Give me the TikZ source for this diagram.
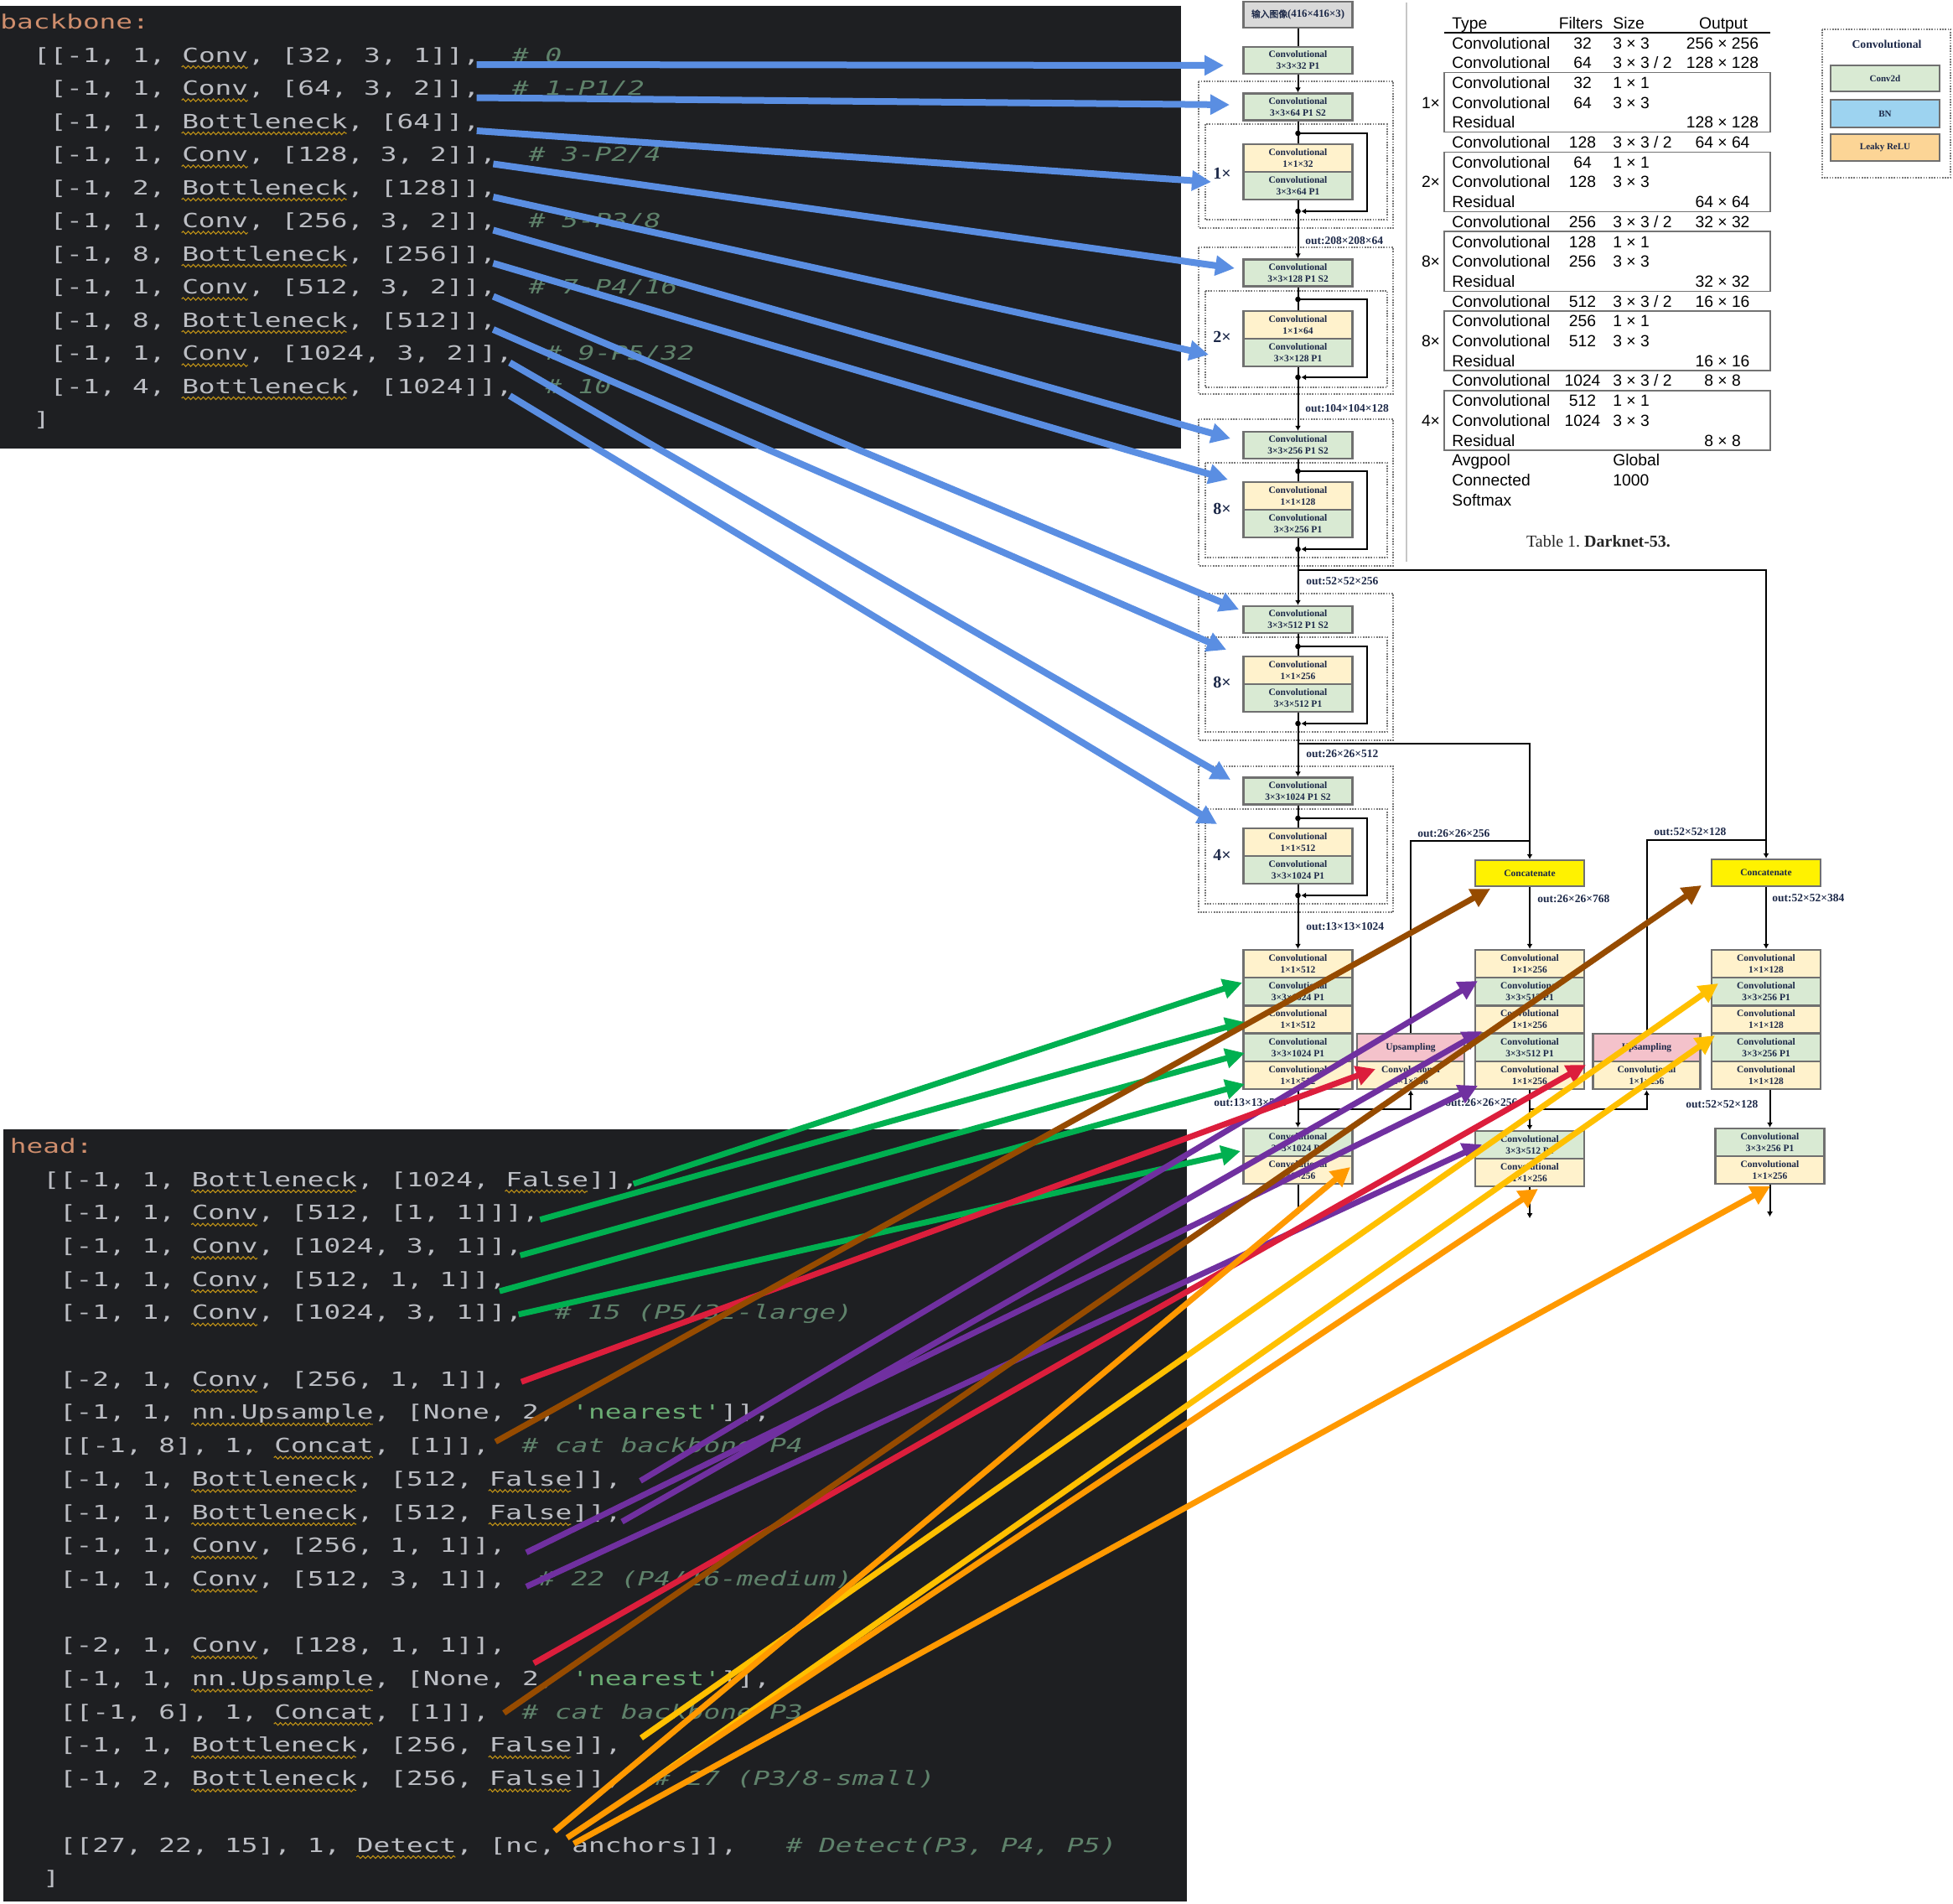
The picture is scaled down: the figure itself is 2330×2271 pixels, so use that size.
\documentclass[tikz,border=0pt]{standalone}
\usepackage{fontspec}
\setmainfont{Liberation Serif}
\newfontfamily\codefont[FakeStretch=1.40]{DejaVu Sans Mono}
\newfontfamily\tabfont{Liberation Sans}
\newfontfamily\cjkfont[FakeBold=1.5]{Noto Sans CJK SC}
\usetikzlibrary{arrows.meta,calc,decorations.pathmorphing}
\frenchspacing
\definecolor{panel}{RGB}{30,31,34}
\definecolor{codefg}{RGB}{188,190,196}
\definecolor{kwor}{RGB}{207,142,109}
\definecolor{cmtc}{RGB}{95,130,107}
\definecolor{strg}{RGB}{106,171,115}
\definecolor{wavec}{RGB}{190,145,23}
\definecolor{navy}{RGB}{28,40,72}
\definecolor{bgray}{RGB}{112,112,112}
\definecolor{cgreen}{RGB}{217,234,211}
\definecolor{cyellow}{RGB}{255,242,204}
\definecolor{cpink}{RGB}{244,194,203}
\definecolor{cblue}{RGB}{157,211,240}
\definecolor{corange}{RGB}{252,213,150}
\definecolor{inputgray}{RGB}{217,217,217}
\definecolor{dotgray}{RGB}{120,120,120}
\definecolor{ablue}{RGB}{90,142,226}
\definecolor{agreen}{RGB}{0,176,80}
\definecolor{ared}{RGB}{220,30,60}
\definecolor{abrown}{RGB}{150,75,0}
\definecolor{apurple}{RGB}{112,48,160}
\definecolor{agold}{RGB}{255,192,0}
\definecolor{aorange}{RGB}{255,153,0}
\newcommand\cf{\codefont\fontsize{11.7}{14}\selectfont}
\newcommand\bxf{\fontsize{5.75}{7}\selectfont\bfseries}
\newcommand\otf{\fontsize{6.75}{8}\selectfont\bfseries}
\newcommand\tbf{\tabfont\fontsize{9.65}{11}\selectfont}
\newcommand\trow[5]{%
  \node[tcell,anchor=base west] (ty#1) at (1732,{58+23.7*(#1-1)}) {#2};
  \if\relax\detokenize{#3}\relax\else\node[tcell,anchor=base] (fi#1) at (1888,{58+23.7*(#1-1)}) {#3};\fi
  \if\relax\detokenize{#4}\relax\else\node[tcell,anchor=base west] (sz#1) at (1924,{58+23.7*(#1-1)}) {#4};\fi
  \if\relax\detokenize{#5}\relax\else\node[tcell,anchor=base] (ou#1) at (2055,{58+23.7*(#1-1)}) {#5};\fi}
\begin{document}
\begin{tikzpicture}[x=0.5pt,y=-0.5pt,
  code/.style={font=\cf, text=codefg, inner sep=0pt, anchor=base west},
  cmt/.style={code, font=\cf\itshape, text=cmtc},
  wavy/.style={draw=wavec, line width=0.55pt, decorate, decoration={snake, amplitude=0.8pt, segment length=3pt}},
  barrow/.style={draw=ablue, line width=4pt, -{Triangle[length=11.5pt 0,width=11.5pt 0]}},
  harrow/.style={line width=3.5pt, -{Triangle[length=11.5pt 0,width=11.5pt 0]}},
  box/.style={draw=bgray, line width=1.2pt, minimum width=65pt, minimum height=16.5pt, inner sep=0pt, align=center, font=\bxf, text=navy},
  gbx/.style={box, fill=cgreen},
  ybx/.style={box, fill=cyellow},
  pbx/.style={box, fill=cpink},
  cbx/.style={box, fill=yellow, minimum height=15.5pt},
  sbx/.style={gbx, minimum height=16pt},
  hbx/.style={minimum height=16.6pt},
  dbox/.style={draw=dotgray, line width=1pt, dash pattern=on 0.8pt off 0.8pt},
  ln/.style={draw=black, line width=1pt},
  arr/.style={ln, -{Latex[length=3pt 0,width=3.5pt 0]}},
  dotn/.style={circle, fill=black, inner sep=0pt, minimum size=3.3pt},
  mult/.style={font=\fontsize{10}{12}\selectfont\bfseries, text=navy, inner sep=0pt},
  outl/.style={font=\otf, text=navy, inner sep=0pt, anchor=west},
  tcell/.style={font=\tbf, inner sep=0pt},
  lgf/.style={font=\fontsize{5.5}{7}\selectfont\bfseries},
]
\useasboundingbox (0,0) rectangle (2330,2271);
\fill[white] (0,0) rectangle (2330,2271);

% ---------------- code panels ----------------
\fill[panel] (0,7) rectangle (1409,535);
\fill[panel] (4,1347) rectangle (1416,2268);

\node[code,text=kwor] (bk0) at (0,34.5) {backbone:};
\node[code] (b1) at (39.4,74) {[[-1, 1, Conv, [32, 3, 1]],};
\node[cmt] (cb1) at (610.7,74) {\# 0};
\node[code] (b2) at (59.1,113.5) {[-1, 1, Conv, [64, 3, 2]],};
\node[cmt] (cb2) at (610.7,113.5) {\# 1-P1/2};
\node[code] (b3) at (59.1,153) {[-1, 1, Bottleneck, [64]],};
\node[code] (b4) at (59.1,192.5) {[-1, 1, Conv, [128, 3, 2]],};
\node[cmt] (cb4) at (630.4,192.5) {\# 3-P2/4};
\node[code] (b5) at (59.1,232) {[-1, 2, Bottleneck, [128]],};
\node[code] (b6) at (59.1,271.5) {[-1, 1, Conv, [256, 3, 2]],};
\node[cmt] (cb6) at (630.4,271.5) {\# 5-P3/8};
\node[code] (b7) at (59.1,311) {[-1, 8, Bottleneck, [256]],};
\node[code] (b8) at (59.1,350.5) {[-1, 1, Conv, [512, 3, 2]],};
\node[cmt] (cb8) at (630.4,350.5) {\# 7-P4/16};
\node[code] (b9) at (59.1,390) {[-1, 8, Bottleneck, [512]],};
\node[code] (b10) at (59.1,429.5) {[-1, 1, Conv, [1024, 3, 2]],};
\node[cmt] (cb10) at (650.1,429.5) {\# 9-P5/32};
\node[code] (b11) at (59.1,469) {[-1, 4, Bottleneck, [1024]],};
\node[cmt] (cb11) at (650.1,469) {\# 10};
\node[code] (b12) at (39.4,508.5) {]};

\foreach \yy in {80,119.5,198.5,277.5,356.5,435.5} \draw[wavy] (216.7,\yy) -- (295.5,\yy);
\foreach \yy in {159,238,317,396,475} \draw[wavy] (216.7,\yy) -- (413.7,\yy);

\node[code,text=kwor] (hl0) at (11.5,1375.3) {head:};
\node[code] (hl1) at (50.9,1415) {[[-1, 1, Bottleneck, [1024, False]],};
\node[code] (hl2) at (70.6,1454.7) {[-1, 1, Conv, [512, [1, 1]]],};
\node[code] (hl3) at (70.6,1494.4) {[-1, 1, Conv, [1024, 3, 1]],};
\node[code] (hl4) at (70.6,1534.1) {[-1, 1, Conv, [512, 1, 1]],};
\node[code] (hl5) at (70.6,1573.8) {[-1, 1, Conv, [1024, 3, 1]],};
\node[cmt] (ch5) at (661.6,1573.8) {\# 15 (P5/32-large)};
\node[code] (hl7) at (70.6,1653.2) {[-2, 1, Conv, [256, 1, 1]],};
\node[code] (hl8) at (70.6,1692.9) {[-1, 1, nn.Upsample, [None, 2, \textcolor{strg}{'nearest'}]],};
\node[code] (hl9) at (70.6,1732.6) {[[-1, 8], 1, Concat, [1]],};
\node[cmt] (ch9) at (622.2,1732.6) {\# cat backbone P4};
\node[code] (hl10) at (70.6,1772.3) {[-1, 1, Bottleneck, [512, False]],};
\node[code] (hl11) at (70.6,1812) {[-1, 1, Bottleneck, [512, False]],};
\node[code] (hl12) at (70.6,1851.7) {[-1, 1, Conv, [256, 1, 1]],};
\node[code] (hl13) at (70.6,1891.4) {[-1, 1, Conv, [512, 3, 1]],};
\node[cmt] (ch13) at (641.9,1891.4) {\# 22 (P4/16-medium)};
\node[code] (hl15) at (70.6,1970.8) {[-2, 1, Conv, [128, 1, 1]],};
\node[code] (hl16) at (70.6,2010.5) {[-1, 1, nn.Upsample, [None, 2, \textcolor{strg}{'nearest'}]],};
\node[code] (hl17) at (70.6,2050.2) {[[-1, 6], 1, Concat, [1]],};
\node[cmt] (ch17) at (622.2,2050.2) {\# cat backbone P3};
\node[code] (hl18) at (70.6,2089.9) {[-1, 1, Bottleneck, [256, False]],};
\node[code] (hl19) at (70.6,2129.6) {[-1, 2, Bottleneck, [256, False]],};
\node[cmt] (ch19) at (779.8,2129.6) {\# 27 (P3/8-small)};
\node[code] (hl21) at (70.6,2209) {[[27, 22, 15], 1, Detect, [nc, anchors]],};
\node[cmt] (ch21) at (937.4,2209) {\# Detect(P3, P4, P5)};
\node[code] (hl22) at (50.9,2248.7) {]};

\foreach \yy in {1460.7,1500.4,1540.1,1579.8,1659.2,1857.7,1897.4,1976.8} \draw[wavy] (228.2,\yy) -- (307,\yy);
\foreach \yy in {1421,1778.3,1818,2095.9,2135.6} \draw[wavy] (228.2,\yy) -- (425.2,\yy);
\draw[wavy] (602.5,1421) -- (701,1421);
\foreach \yy in {1778.3,1818,2095.9,2135.6} \draw[wavy] (582.8,\yy) -- (681.3,\yy);
\foreach \yy in {1698.9,2016.5} \draw[wavy] (228.2,\yy) -- (444.9,\yy);
\foreach \yy in {1738.6,2056.2} \draw[wavy] (326.7,\yy) -- (444.9,\yy);
\draw[wavy] (425.2,2215) -- (543.4,2215);

% ---------------- table ----------------
\draw[draw=black!22, line width=0.75pt] (1678,3) -- (1678,670);
\node[tcell,anchor=base west] (thT) at (1732,34) {Type};
\node[tcell,anchor=base] (thF) at (1886,34) {Filters};
\node[tcell,anchor=base west] (thS) at (1924,34) {Size};
\node[tcell,anchor=base] (thO) at (2056,34) {Output};
\draw[line width=1pt] (1723,38.5) -- (2112,38.5);
\trow{1}{Convolutional}{32}{3 × 3}{256 × 256}
\trow{2}{Convolutional}{64}{3 × 3 / 2}{128 × 128}
\trow{3}{Convolutional}{32}{1 × 1}{}
\trow{4}{Convolutional}{64}{3 × 3}{}
\trow{5}{Residual}{}{}{128 × 128}
\trow{6}{Convolutional}{128}{3 × 3 / 2}{64 × 64}
\trow{7}{Convolutional}{64}{1 × 1}{}
\trow{8}{Convolutional}{128}{3 × 3}{}
\trow{9}{Residual}{}{}{64 × 64}
\trow{10}{Convolutional}{256}{3 × 3 / 2}{32 × 32}
\trow{11}{Convolutional}{128}{1 × 1}{}
\trow{12}{Convolutional}{256}{3 × 3}{}
\trow{13}{Residual}{}{}{32 × 32}
\trow{14}{Convolutional}{512}{3 × 3 / 2}{16 × 16}
\trow{15}{Convolutional}{256}{1 × 1}{}
\trow{16}{Convolutional}{512}{3 × 3}{}
\trow{17}{Residual}{}{}{16 × 16}
\trow{18}{Convolutional}{1024}{3 × 3 / 2}{8 × 8}
\trow{19}{Convolutional}{512}{1 × 1}{}
\trow{20}{Convolutional}{1024}{3 × 3}{}
\trow{21}{Residual}{}{}{8 × 8}
\trow{22}{Avgpool}{}{Global}{}
\trow{23}{Connected}{}{1000}{}
\trow{24}{Softmax}{}{}{}
\foreach \r/\m in {4/1,8/2,12/8,16/8,20/4}
  \node[tcell,anchor=base] (tm\r) at (1707,{58+23.7*(\r-1)}) {\m×};
\foreach \a/\b in {86.5/157.7,181.4/252.5,276.2/347.3,371/442.1,465.8/536.9}
  \draw[draw=black!55, line width=0.75pt] (1723,\a) rectangle (2112,\b);
\node[font=\fontsize{10}{12}\selectfont, text=black!85, inner sep=0pt] (cap) at (1907,646) {Table 1. \textbf{Darknet-53.}};

% ---------------- legend ----------------
\draw[dbox] (2174,35) rectangle (2327,212);
\node[font=\fontsize{6.85}{8}\selectfont\bfseries, text=navy, inner sep=0pt] (lgt) at (2251,53) {Convolutional};
\node[gbx, lgf, minimum height=15.5pt] (lg1) at (2249,93.5) {Conv2d};
\node[box, fill=cblue, lgf] (lg2) at (2249,135.5) {BN};
\node[box, fill=corange, lgf, minimum height=16pt] (lg3) at (2249,176) {Leaky ReLU};

% ---------------- backbone diagram ----------------
\foreach \ot/\ob/\it/\ib in {97/272/148/262, 295/470/347/462, 500/675/552/665, 708/883/760/873, 914/1088/965/1078}{
  \draw[dbox] (1430,\ot) rectangle (1662,\ob);
  \draw[dbox] (1438,\it) rectangle (1655,\ib);
}
\node[box, fill=inputgray, minimum height=15.5pt, font=\fontsize{6.4}{7}\selectfont\bfseries] (inp) at (1548.5,17.5) {{\cjkfont\mdseries\fontsize{5.4}{7}\selectfont 输入图像}(416×416×3)};
\node[sbx] (c0) at (1548.5,72) {Convolutional\\3×3×32 P1};
\node[sbx] (c1) at (1548.5,127.5) {Convolutional\\3×3×64 P1 S2};
\node[ybx] (r1y) at (1548.5,188.5) {Convolutional\\1×1×32};
\node[gbx] (r1g) at (1548.5,221.5) {Convolutional\\3×3×64 P1};
\node[sbx] (c2) at (1548.5,325.5) {Convolutional\\3×3×128 P1 S2};
\node[ybx] (r2y) at (1548.5,387.5) {Convolutional\\1×1×64};
\node[gbx] (r2g) at (1548.5,420.5) {Convolutional\\3×3×128 P1};
\node[sbx] (c3) at (1548.5,531) {Convolutional\\3×3×256 P1 S2};
\node[ybx] (r3y) at (1548.5,591.5) {Convolutional\\1×1×128};
\node[gbx] (r3g) at (1548.5,624.5) {Convolutional\\3×3×256 P1};
\node[sbx] (c4) at (1548.5,739) {Convolutional\\3×3×512 P1 S2};
\node[ybx] (r4y) at (1548.5,799.5) {Convolutional\\1×1×256};
\node[gbx] (r4g) at (1548.5,832.5) {Convolutional\\3×3×512 P1};
\node[sbx] (c5) at (1548.5,943.5) {Convolutional\\3×3×1024 P1 S2};
\node[ybx] (r5y) at (1548.5,1004.5) {Convolutional\\1×1×512};
\node[gbx] (r5g) at (1548.5,1037.5) {Convolutional\\3×3×1024 P1};

\node[mult] (mA) at (1458,207) {1×};
\node[mult] (mB) at (1458,402) {2×};
\node[mult] (mC) at (1458,607) {8×};
\node[mult] (mD) at (1458,814) {8×};
\node[mult] (mE) at (1458,1020) {4×};

\node[dotn] (dA1) at (1548.5,159) {};
\node[dotn] (dA2) at (1548.5,252) {};
\node[dotn] (dB1) at (1548.5,357) {};
\node[dotn] (dB2) at (1548.5,450) {};
\node[dotn] (dC1) at (1548.5,562) {};
\node[dotn] (dC2) at (1548.5,655) {};
\node[dotn] (dD1) at (1548.5,771) {};
\node[dotn] (dD2) at (1548.5,863) {};
\node[dotn] (dE1) at (1548.5,976) {};
\node[dotn] (dE2) at (1548.5,1068) {};

\draw[ln] (inp) -- (c0);
\draw[arr] (c0) -- (c1);
\draw[ln] (c1) -- (r1y);
\draw[ln] (r1g.south) -- (dA2.center);
\draw[arr] (dA2.center) -- (c2.north);
\draw[ln] (c2) -- (r2y);
\draw[ln] (r2g.south) -- (dB2.center);
\draw[arr] (dB2.center) -- (c3.north);
\draw[ln] (c3) -- (r3y);
\draw[ln] (r3g.south) -- (dC2.center);
\draw[arr] (dC2.center) -- (c4.north);
\draw[ln] (c4) -- (r4y);
\draw[ln] (r4g.south) -- (dD2.center);
\draw[arr] (dD2.center) -- (c5.north);
\draw[ln] (c5) -- (r5y);
\draw[ln] (r5g.south) -- (dE2.center);
\foreach \p in {A,B,C,D,E} \draw[arr] (d\p1.center) -- ++(82,0) |- (d\p2);

\node[outl] (o1) at (1557,287) {out:208×208×64};
\node[outl] (o2) at (1557,487) {out:104×104×128};
\node[outl] (o3) at (1558,693) {out:52×52×256};
\node[outl] (o4) at (1558,899) {out:26×26×512};
\node[outl] (o5) at (1558,1105) {out:13×13×1024};

% ---------------- head diagram ----------------
\node[cbx] (cat1) at (1825,1041.5) {Concatenate};
\node[cbx, minimum height=16pt] (cat2) at (2107,1041) {Concatenate};
\coordinate (j52) at (1548.5,680);
\coordinate (j26) at (1548.5,887);
\draw[arr] (j52) -| (cat2.north);
\draw[arr] (j26) -| (cat1.north);

\foreach \i/\yc in {1/1149.6,2/1182.8,3/1216.0,4/1249.2,5/1282.4}{
  \ifodd\i
    \node[ybx,hbx] (pa\i) at (1548.5,\yc) {Convolutional\\1×1×512};
    \node[ybx,hbx] (pb\i) at (1825,\yc) {Convolutional\\1×1×256};
    \node[ybx,hbx] (pc\i) at (2107,\yc) {Convolutional\\1×1×128};
  \else
    \node[gbx,hbx] (pa\i) at (1548.5,\yc) {Convolutional\\3×3×1024 P1};
    \node[gbx,hbx] (pb\i) at (1825,\yc) {Convolutional\\3×3×512 P1};
    \node[gbx,hbx] (pc\i) at (2107,\yc) {Convolutional\\3×3×256 P1};
  \fi
}
\node[pbx, minimum width=64pt] (ua1) at (1683,1249.5) {Upsampling};
\node[ybx, minimum width=64pt] (ua2) at (1683,1282.5) {Convolutional\\1×1×256};
\node[pbx, minimum width=64pt] (ub1) at (1964.5,1249.5) {Upsampling};
\node[ybx, minimum width=64pt] (ub2) at (1964.5,1282.5) {Convolutional\\1×1×256};

\node[gbx] (la1) at (1548.5,1362.5) {Convolutional\\3×3×1024 P1};
\node[ybx] (la2) at (1548.5,1395.5) {Convolutional\\1×1×256};
\node[gbx] (lb1) at (1825,1365.5) {Convolutional\\3×3×512 P1};
\node[ybx] (lb2) at (1825,1398.5) {Convolutional\\1×1×256};
\node[gbx] (lc1) at (2111.5,1362.5) {Convolutional\\3×3×256 P1};
\node[ybx] (lc2) at (2111.5,1395.5) {Convolutional\\1×1×256};

\draw[arr] (dE2.center) -- (pa1.north);
\draw[arr] (cat1.south) -- (pb1.north);
\draw[arr] (cat2.south) -- (pc1.north);
\draw[arr] (pa5.south) -- (la1.north);
\draw[arr] ($(pa5.south)+(0,23)$) -| (ua2.south);
\draw[arr] (pb5.south) -- (lb1.north);
\draw[arr] ($(pb5.south)+(0,23)$) -| (ub2.south);
\draw[arr] (lc1.north |- pc5.south) -- (lc1.north);
\draw[ln] (ua1.north) |- ($(cat1.north)+(0,-22)$);
\draw[ln] (ub1.north) |- ($(cat2.north)+(0,-22)$);
\draw[ln] (la2.south) -- ++(0,35);
\draw[arr] (lb2.south) -- ++(0,37);
\draw[arr] (lc2.south) -- ++(0,38);

\node[outl] (o6) at (1691,994) {out:26×26×256};
\node[outl] (o7) at (1834,1072) {out:26×26×768};
\node[outl] (o8) at (1973,992) {out:52×52×128};
\node[outl] (o9) at (2114,1071) {out:52×52×384};
\node[outl] (o10) at (1448,1315) {out:13×13×512};
\node[outl] (o11) at (1724,1315) {out:26×26×256};
\node[outl] (o12) at (2011,1317) {out:52×52×128};

% ---------------- arrow tips ----------------
\coordinate (bt1) at (1460,78);
\coordinate (bt2) at (1467,125);
\coordinate (bt3) at (1445,217);
\coordinate (bt4) at (1473,320);
\coordinate (bt5) at (1442,423);
\coordinate (bt6) at (1468,523);
\coordinate (bt7) at (1465,572);
\coordinate (bt8) at (1478,727);
\coordinate (bt9) at (1463,775);
\coordinate (bt10) at (1468,930);
\coordinate (bt11) at (1452,983);
\coordinate (gt1) at (1482,1172);
\coordinate (gt2) at (1485,1219);
\coordinate (gt3) at (1485,1256);
\coordinate (gt4) at (1485,1293);
\coordinate (gt5) at (1480,1373);
\coordinate (rt1) at (1641,1275);
\coordinate (rt2) at (1892,1270);
\coordinate (brt1) at (1778,1060);
\coordinate (brt2) at (2030,1056);
\coordinate (pt1) at (1763,1170);
\coordinate (pt2) at (1768,1230);
\coordinate (pt3) at (1763,1295);
\coordinate (pt4) at (1768,1365);
\coordinate (yt1) at (2050,1173);
\coordinate (yt2) at (2046,1235);
\coordinate (ot1) at (1611,1392);
\coordinate (ot2) at (1835,1418);
\coordinate (ot3) at (2112,1415);

% ---------------- colored arrows ----------------
\foreach \k in {1,...,11} \draw[barrow] ($(b\k.base east)+(-4,3)$) -- (bt\k);

\draw[harrow, agreen] ($(hl1.base east)+(-6,-3)$) -- (gt1);
\draw[harrow, agreen] ($(hl2.base east)+(1,0)$) -- (gt2);
\draw[harrow, agreen] ($(hl3.base east)+(-3,3)$) -- (gt3);
\draw[harrow, agreen] ($(hl4.base east)+(-8,6)$) -- (gt4);
\draw[harrow, agreen] ($(hl5.base east)+(-5,-6)$) -- (gt5);

\draw[harrow, apurple] ($(hl10.base east)+(22,-6)$) -- (pt1);
\draw[harrow, apurple] ($(hl11.base east)+(0,3)$) -- (pt2);
\draw[harrow, apurple] ($(hl12.base east)+(24,0)$) -- (pt3);
\draw[harrow, apurple] ($(hl13.base east)+(24,1)$) -- (pt4);

\draw[harrow, ared] ($(hl7.base east)+(18,-5)$) -- (rt1);
\draw[harrow, ared] ($(hl15.base east)+(33,13)$) -- (rt2);

\draw[harrow, abrown] ($(hl9.base east)+(7,-13)$) -- (brt1);
\draw[harrow, abrown] ($(hl17.base east)+(17,-7)$) -- (brt2);

\draw[harrow, agold] ($(hl18.base east)+(23,-17)$) -- (yt1);
\draw[harrow, agold] ($(hl19.base east)+(32,-3)$) -- (yt2);

\draw[harrow, aorange] ($(hl21.base west)+(591,-25)$) -- (ot1);
\draw[harrow, aorange] ($(hl21.base west)+(606,-17)$) -- (ot2);
\draw[harrow, aorange] ($(hl21.base west)+(614,-10)$) -- (ot3);
\end{tikzpicture}
\end{document}
